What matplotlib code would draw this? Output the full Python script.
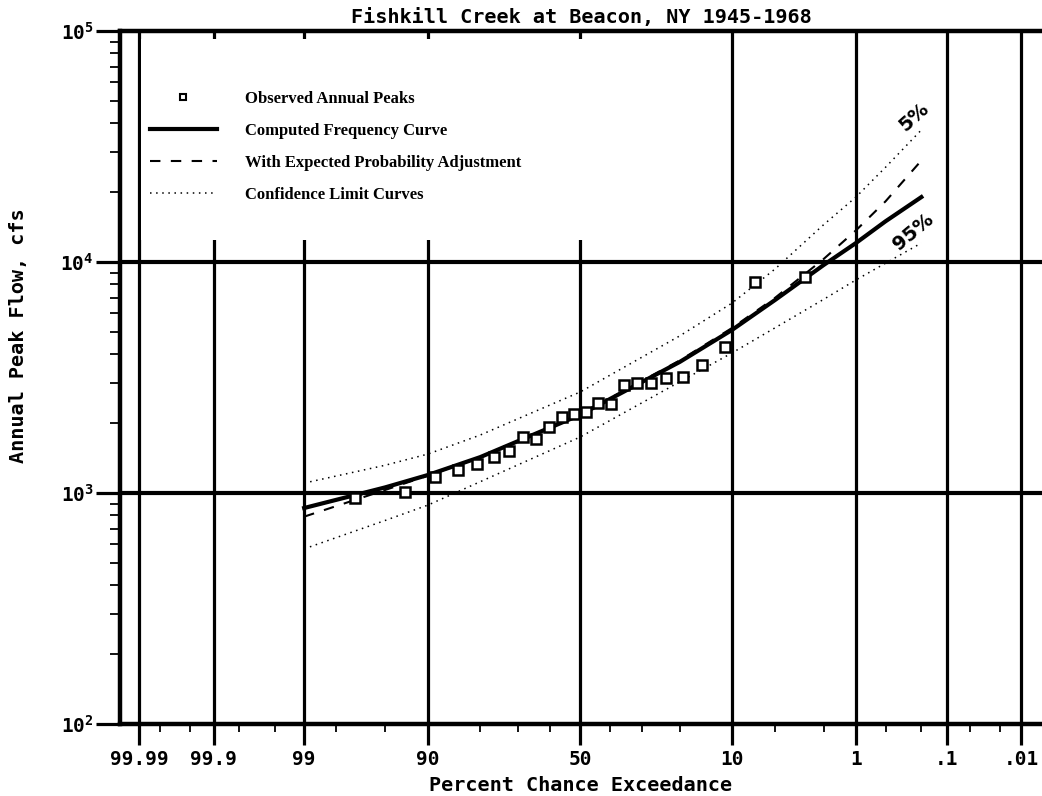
import numpy as np
import matplotlib
matplotlib.use('Agg')
import matplotlib.pyplot as plt
from matplotlib.patches import Rectangle
from matplotlib.ticker import FixedLocator, LogLocator, NullFormatter
from statistics import NormalDist

# observed annual peaks: percent chance exceedance and peak flow (cfs)
obs_pct = [2.87, 6.97, 11.07, 15.16, 19.26, 23.36, 27.46, 31.56, 35.66, 39.75, 43.85, 47.95,
           52.05, 56.15, 60.25, 64.34, 68.44, 72.54, 76.64, 80.74, 84.84, 88.93, 93.03, 97.13]
obs_flow = [8610, 8190, 4290, 3580, 3180, 3150, 2990, 2990, 2940, 2430, 2460, 2240,
            2200, 2130, 1930, 1710, 1750, 1520, 1430, 1340, 1260, 1170, 1010, 950]

# curves read at these exceedance percents
curve_pct = [99, 95, 90, 80, 50, 20, 10, 5, 2, 1, 0.5, 0.2]
computed = [861, 1057, 1197, 1430, 2178, 3695, 5080, 6850, 9700, 12080, 15000, 19100]
expected = [790, 1030, 1190, 1430, 2190, 3750, 5180, 7000, 10300, 13700, 18300, 27500]
upper_5 = [1104, 1318, 1475, 1782, 2735, 4790, 6640, 9330, 14500, 19100, 25700, 37300]
lower_95 = [573, 760, 887, 1119, 1746, 3030, 4040, 5190, 6890, 8360, 9880, 12080]

major_pct = [99.99, 99.9, 99, 90, 50, 10, 1, 0.1, 0.01]
major_lbl = ['99.99', '99.9', '99', '90', '50', '10', '1', '.1', '.01']
minor_pct = [99.98, 99.95, 99.8, 99.5, 98, 95, 80, 70, 60, 40, 30, 20, 5, 2, 0.5, 0.2, 0.05, 0.02]

nd = NormalDist()


def fwd(p):
    p = np.asarray(p, dtype=float)
    out = []
    for v in p.ravel():
        q = 1 - v / 100.0
        if not np.isfinite(q):
            out.append(np.nan)
        else:
            out.append(nd.inv_cdf(min(max(q, 1e-12), 1 - 1e-12)))
    return np.array(out).reshape(p.shape)


def inv(z):
    z = np.asarray(z, dtype=float)
    out = [100.0 * (1 - nd.cdf(v)) if np.isfinite(v) else np.nan for v in z.ravel()]
    return np.array(out).reshape(z.shape)


mono = dict(family='DejaVu Sans Mono', fontweight='bold')
plt.rcParams['mathtext.fontset'] = 'custom'
plt.rcParams['mathtext.rm'] = 'DejaVu Sans Mono:bold'

fig = plt.figure(figsize=(10.42, 7.96), dpi=100)
ax = fig.add_axes([120 / 1042, 72 / 796, 922 / 1042, 693 / 796])
ax.set_xscale('function', functions=(fwd, inv))
ax.set_yscale('log')

# grid
for p in major_pct:
    ax.axvline(p, color='black', lw=2.3, zorder=0.5)
for q in [1000, 10000]:
    ax.axhline(q, color='black', lw=3.0, zorder=0.5)

# white box behind legend
ax.add_patch(Rectangle((0.023, 0.698), 0.637, 0.29, transform=ax.transAxes,
                       facecolor='white', edgecolor='none', zorder=1))

l_obs, = ax.plot(obs_pct, obs_flow, 's', ms=6.5, mfc='white', mec='black', mew=1.8, zorder=4)
l_cmp, = ax.plot(curve_pct, computed, '-', color='black', lw=3.0, zorder=3)
l_exp, = ax.plot(curve_pct, expected, color='black', lw=1.5, dashes=(5, 5), zorder=3)
l_conf, = ax.plot(curve_pct, upper_5, color='black', lw=1.1, dashes=(1, 3), zorder=3)
ax.plot(curve_pct, lower_95, color='black', lw=1.1, dashes=(1, 3), zorder=3)

ax.text(0.243, 42400, '5%', rotation=42, ha='center', va='center', fontsize=14,
        fontweight='bold', family='DejaVu Sans')
ax.text(0.25, 13500, '95%', rotation=40, ha='center', va='center', fontsize=14,
        fontweight='bold', family='DejaVu Sans')

leg = ax.legend([l_obs, l_cmp, l_exp, l_conf],
                ['Observed Annual Peaks', 'Computed Frequency Curve',
                 'With Expected Probability Adjustment', 'Confidence Limit Curves'],
                loc='upper left', bbox_to_anchor=(0.0325, 0.9137), frameon=False,
                borderpad=0, borderaxespad=0, handlelength=4, handletextpad=1.7,
                labelspacing=0.96, prop={'family': 'Liberation Serif', 'weight': 'bold', 'size': 12})
leg.legend_handles[0].set_markersize(5)
leg.legend_handles[0].set_markeredgewidth(1.5)
leg.set_zorder(5)

# ticks
ax.xaxis.set_major_locator(FixedLocator(major_pct))
ax.xaxis.set_minor_locator(FixedLocator(minor_pct))
ax.xaxis.set_minor_formatter(NullFormatter())
ax.set_xticks(major_pct)
ax.set_xticklabels(major_lbl, fontsize=14, **mono)
ax.set_yticks([100, 1000, 10000, 100000])
ax.set_yticklabels([r'$\mathrm{10^{2}}$', r'$\mathrm{10^{3}}$', r'$\mathrm{10^{4}}$', r'$\mathrm{10^{5}}$'],
                   fontsize=14)
ax.yaxis.set_minor_locator(LogLocator(base=10, subs=np.arange(2, 10)))
ax.yaxis.set_minor_formatter(NullFormatter())
ax.tick_params(axis='x', which='major', direction='out', length=15, width=2.3, pad=4)
ax.tick_params(axis='x', which='minor', direction='out', length=6, width=1.3)
ax.tick_params(axis='y', which='major', direction='out', length=17, width=2.3, pad=2)
ax.tick_params(axis='y', which='minor', direction='out', length=7, width=1.3)

ax.set_ylim(100, 100000)
ax.set_xlim(99.99476, 0.0049)
# high exceedance must sit on the left
if ax.transData.transform((99, 1000))[0] > ax.transData.transform((1, 1000))[0]:
    ax.invert_xaxis()

for s in ['left', 'top', 'bottom']:
    ax.spines[s].set_linewidth(3.2)
ax.spines['right'].set_visible(False)

ax.set_title('Fishkill Creek at Beacon, NY 1945-1968', fontsize=14.5, pad=6, **mono)
ax.set_xlabel('Percent Chance Exceedance', fontsize=14.5, labelpad=5, **mono)
ax.set_ylabel('Annual Peak Flow, cfs', fontsize=14.5, **mono)
ax.yaxis.set_label_coords(-0.1, 0.56)

fig.savefig('out.png', dpi=100)
